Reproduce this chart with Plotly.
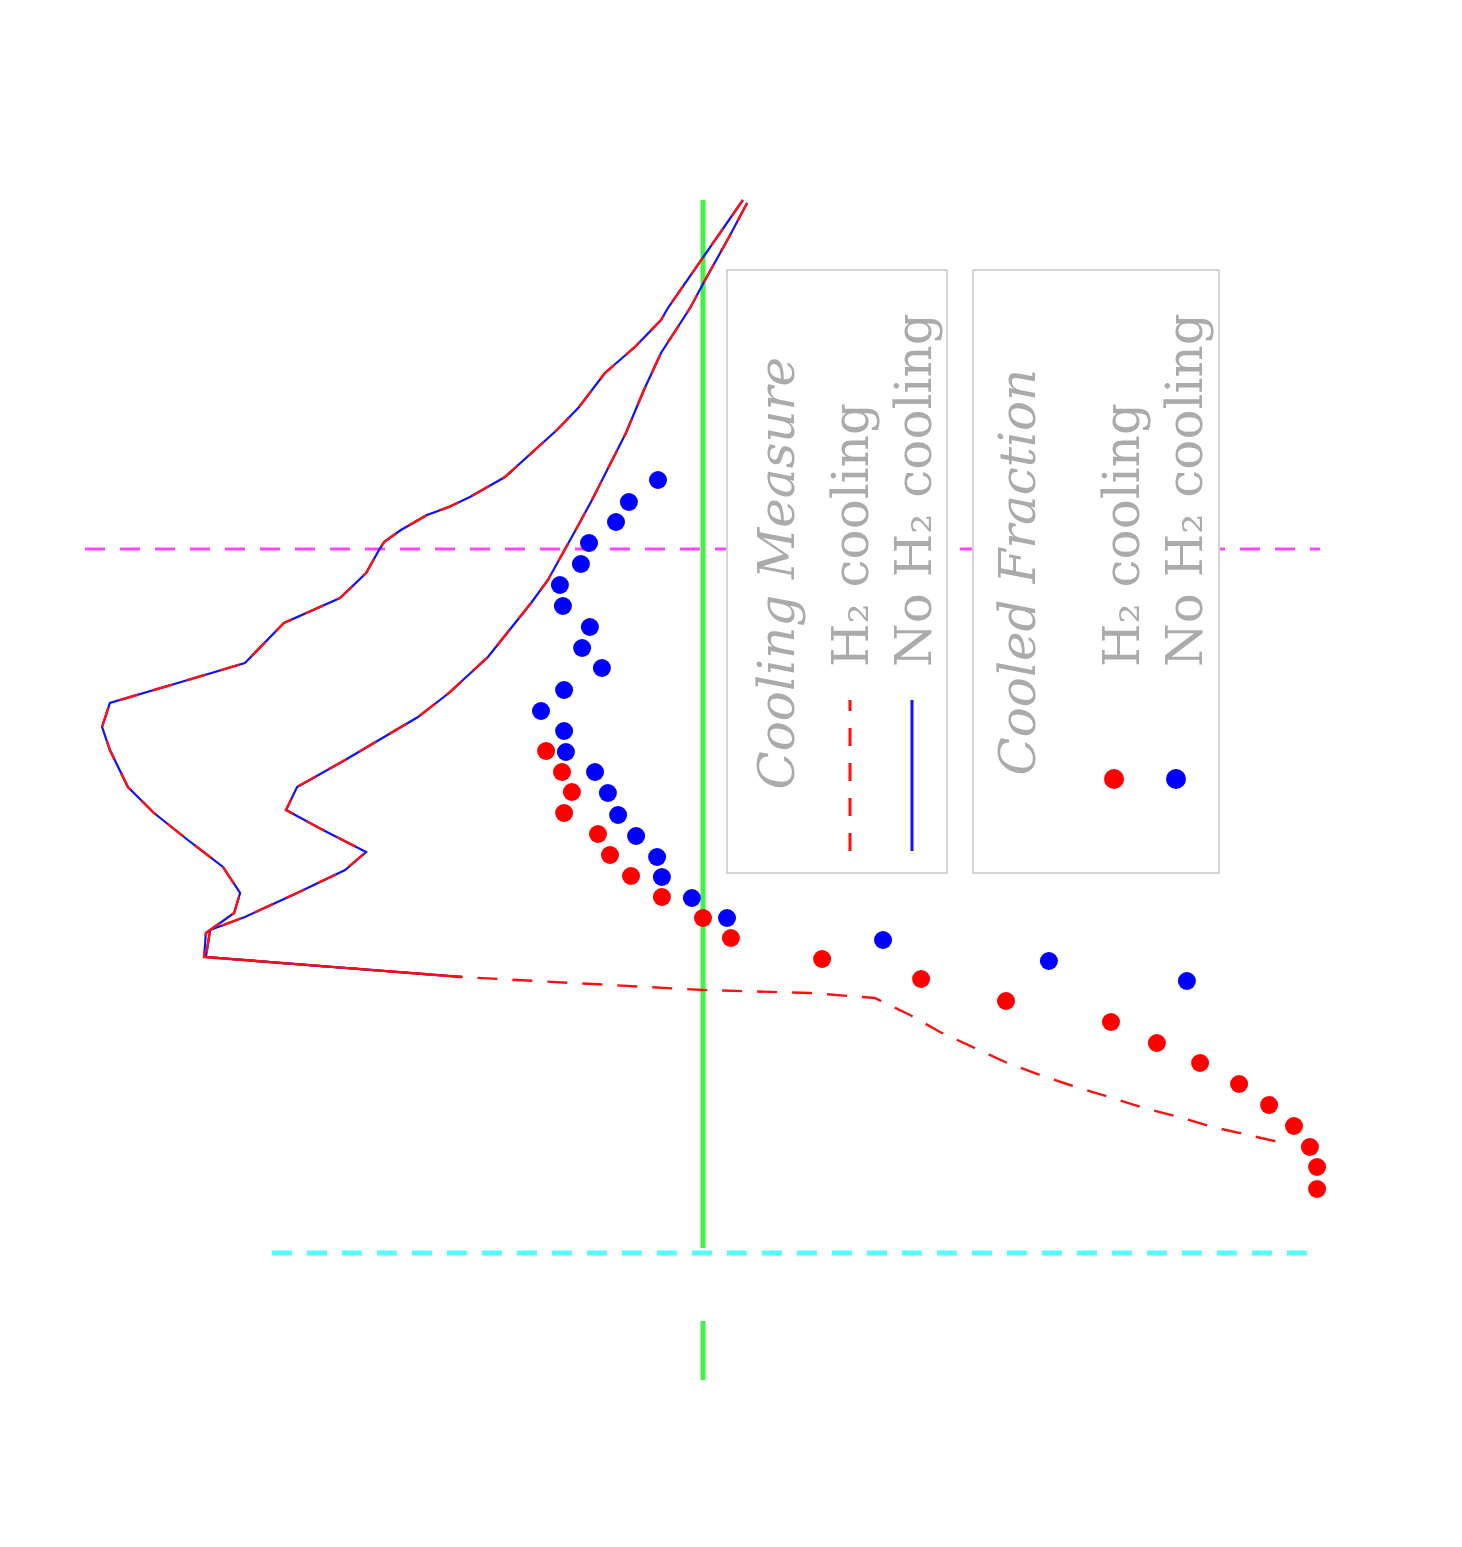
import plotly.graph_objects as go

# ---------------- data ----------------
# Orientation follows the picture: horizontal axis = measure (reversed),
# vertical axis = position along the profile.

# Cooled fraction markers
nh2_frac_v = [9.00, 8.78, 8.58, 8.37, 8.16, 7.95, 7.74, 7.53, 7.32, 7.12, 6.90, 6.69, 6.49,
              6.28, 6.08, 5.87, 5.65, 5.44, 5.23, 5.03, 4.82, 4.62, 4.40, 4.19, 3.99]
nh2_frac_w = [0.150, 0.247, 0.290, 0.380, 0.407, 0.477, 0.467, 0.377, 0.403, 0.337, 0.463,
              0.540, 0.463, 0.457, 0.360, 0.317, 0.283, 0.223, 0.153, 0.137, 0.037, -0.080,
              -0.600, -1.153, -1.613]

h2_frac_v = [6.29, 6.08, 5.88, 5.67, 5.46, 5.25, 5.04, 4.83, 4.62, 4.42, 4.21, 4.01, 3.79,
             3.58, 3.37, 3.17, 2.96, 2.75, 2.54, 2.33, 2.13, 1.91]
h2_frac_w = [0.523, 0.470, 0.437, 0.463, 0.350, 0.310, 0.240, 0.137, 0.000, -0.093, -0.397,
             -0.727, -1.010, -1.360, -1.513, -1.657, -1.787, -1.887, -1.970, -2.023, -2.047,
             -2.047]

# Cooling measure, outer branch
outer_v = [11.80, 11.20, 10.72, 10.60, 10.33, 10.07, 9.73, 9.50, 9.30, 9.03, 8.83, 8.73, 8.65,
           8.50, 8.38, 8.30, 8.07, 7.82, 7.57, 7.17, 7.00, 6.77, 6.53, 6.30, 5.93, 5.67, 5.40,
           5.13, 4.87, 4.67, 4.47, 4.23]
outer_w = [-0.133, 0.007, 0.117, 0.140, 0.227, 0.327, 0.413, 0.487, 0.560, 0.660, 0.777,
           0.847, 0.920, 1.007, 1.063, 1.080, 1.123, 1.210, 1.397, 1.527, 1.717, 1.977, 2.003,
           1.977, 1.917, 1.830, 1.717, 1.600, 1.543, 1.563, 1.657, 1.663]

# Cooling measure, inner branch
inner_v = [11.77, 11.43, 11.00, 10.72, 10.27, 9.90, 9.47, 9.13, 8.80, 8.47, 8.23, 8.00, 7.77,
           7.23, 6.87, 6.63, 6.40, 6.20, 5.93, 5.70, 5.50, 5.28, 5.10, 4.87, 4.63, 4.50, 4.23]
inner_w = [-0.147, -0.087, -0.007, 0.043, 0.140, 0.197, 0.257, 0.313, 0.370, 0.430, 0.473,
           0.517, 0.573, 0.717, 0.847, 0.950, 1.080, 1.193, 1.353, 1.390, 1.267, 1.123, 1.193,
           1.353, 1.527, 1.643, 1.657]

# Shared lower segment (both runs) and the H2-only tail
lower_v = [4.23, 4.03]
lower_w = [1.660, 0.803]
tail_v = [3.90, 3.87, 3.82, 3.65, 3.48, 3.18, 3.05, 2.95, 2.83, 2.72, 2.63, 2.53, 2.45, 2.37]
tail_w = [0.000, -0.357, -0.573, -0.690, -0.790, -1.007, -1.123, -1.223, -1.353, -1.470,
          -1.587, -1.700, -1.817, -1.933]

# Reference lines
threshold_w = 0.0
green_v_ranges = [(11.80, 1.32), (0.59, 0.00)]
magenta_v, magenta_w_range = 8.31, (2.06, -2.057)
cyan_v, cyan_w_range = 1.27, (1.437, -2.057)

legend1_title = "Cooling Measure"
legend2_title = "Cooled Fraction"
labels = ["H\u2082 cooling", "No H\u2082 cooling"]

# ---------------- figure ----------------
W, H = 1446, 1531   # page body has an 8px margin
OFF = 8

def px(x):
    return (x - OFF) / W

def py(y):
    return 1 - (y - OFF) / H

RED = "#ff1010"
BLUE = "#1010ff"
DASH = "20px,15px"

fig = go.Figure()

# No H2 (blue solid) drawn first
for vv, ww in [(outer_v, outer_w), (inner_v, inner_w)]:
    fig.add_trace(go.Scatter(x=ww + lower_w, y=vv + lower_v, mode="lines",
                             line=dict(color=BLUE, width=2.2), showlegend=False,
                             hoverinfo="skip"))
# H2 (red dashed) on top
fig.add_trace(go.Scatter(x=outer_w + lower_w + tail_w, y=outer_v + lower_v + tail_v,
                         mode="lines", line=dict(color=RED, width=2.4, dash=DASH),
                         showlegend=False, hoverinfo="skip"))
fig.add_trace(go.Scatter(x=inner_w + lower_w, y=inner_v + lower_v,
                         mode="lines", line=dict(color=RED, width=2.4, dash=DASH),
                         showlegend=False, hoverinfo="skip"))

fig.add_trace(go.Scatter(x=nh2_frac_w, y=nh2_frac_v, mode="markers",
                         marker=dict(color="#0000ff", size=18, line=dict(width=0)),
                         showlegend=False))
fig.add_trace(go.Scatter(x=h2_frac_w, y=h2_frac_v, mode="markers",
                         marker=dict(color="#ff0000", size=18, line=dict(width=0)),
                         showlegend=False))

shapes = []
for y0, y1 in green_v_ranges:
    shapes.append(dict(type="line", xref="x", yref="y", x0=threshold_w, x1=threshold_w,
                       y0=y0, y1=y1, line=dict(color="#44f044", width=5), layer="below"))
shapes.append(dict(type="line", xref="x", yref="y", x0=magenta_w_range[0],
                   x1=magenta_w_range[1], y0=magenta_v, y1=magenta_v,
                   line=dict(color="#ff44ff", width=3, dash=DASH), layer="below"))
shapes.append(dict(type="line", xref="x", yref="y", x0=cyan_w_range[0], x1=cyan_w_range[1],
                   y0=cyan_v, y1=cyan_v,
                   line=dict(color="#50ffff", width=5, dash=DASH), layer="below"))

# legend boxes (rotated legend)
for x0, x1 in [(727, 947), (973, 1219)]:
    shapes.append(dict(type="rect", xref="paper", yref="paper", x0=px(x0), x1=px(x1),
                       y0=py(873), y1=py(270), fillcolor="white",
                       line=dict(color="#d4d4d4", width=2), layer="above"))
shapes.append(dict(type="line", xref="paper", yref="paper", x0=px(850), x1=px(850),
                   y0=py(851), y1=py(700), line=dict(color=RED, width=3, dash="18px,17px"),
                   layer="above"))
shapes.append(dict(type="line", xref="paper", yref="paper", x0=px(912), x1=px(912),
                   y0=py(851), y1=py(700), line=dict(color=BLUE, width=3), layer="above"))
for cx, col in [(1114, "#ff0000"), (1176, "#0000ff")]:
    shapes.append(dict(type="circle", xref="paper", yref="paper",
                       x0=px(cx - 10), x1=px(cx + 10), y0=py(789), y1=py(769),
                       fillcolor=col, line=dict(width=0), layer="above"))

GRAY = "#ababab"
FONT = "DejaVu Serif"
ann = []
def rot_text(text, cx, ybottom, italic=False):
    t = f"<i>{text}</i>" if italic else text
    ann.append(dict(text=t, xref="paper", yref="paper", x=px(cx), y=py(ybottom),
                    xanchor="center", yanchor="bottom", textangle=-90, showarrow=False,
                    font=dict(family=FONT, size=50, color=GRAY)))

rot_text(legend1_title, 776, 792, italic=True)
rot_text(labels[0], 851, 669)
rot_text(labels[1], 914, 669)
rot_text(legend2_title, 1017, 778, italic=True)
rot_text(labels[0], 1122, 669)
rot_text(labels[1], 1185, 669)

fig.update_layout(
    width=W, height=H, autosize=False,
    margin=dict(l=0, r=0, t=0, b=0),
    paper_bgcolor="white", plot_bgcolor="white",
    xaxis=dict(range=[(703 - OFF) / 300, (703 - OFF - W) / 300], visible=False,
               showgrid=False, zeroline=False),
    yaxis=dict(range=[(1380 - OFF - H) / 100, (1380 - OFF) / 100], visible=False,
               showgrid=False, zeroline=False),
    shapes=shapes, annotations=ann, showlegend=False,
)

fig.write_html("out.html")
